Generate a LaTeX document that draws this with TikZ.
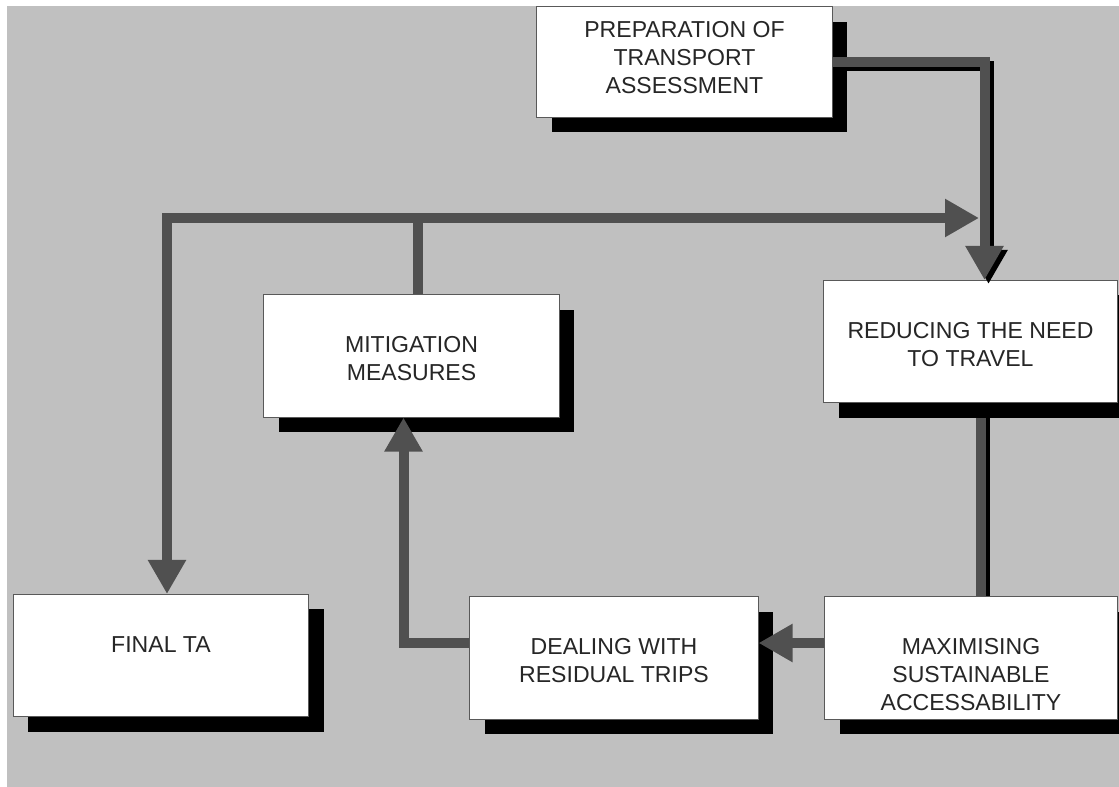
\documentclass[tikz,border=0pt]{standalone}
\usepackage{fontspec}
\setmainfont{Liberation Sans}
\usetikzlibrary{arrows.meta,calc,shadows,backgrounds}

\definecolor{paper}{HTML}{C0C0C0}
\definecolor{pipegray}{HTML}{505050}

\begin{document}
\begin{tikzpicture}[x=0.025cm, y=-0.025cm, line join=miter,
    stage/.style={draw=black!65, line width=0.7pt, fill=white, text=black!85,
      minimum width=7.375cm, minimum height=3.05cm, align=center,
      font={\fontsize{16.4}{19.6}\selectfont},
      drop shadow={shadow xshift=0.375cm, shadow yshift=-0.375cm, fill=black, opacity=1}},
    % the text sits near the top of each box
    oneline/.style={text height=0pt, text depth=0.15cm},
    twolines/.style={text height=1.225cm, text depth=0pt},
    threelines/.style={text height=2.6cm, text depth=0pt},
    pipe/.style={draw=pipegray, line width=0.25cm},
    pipeedge/.style={draw=black, transform canvas={xshift=0.1cm, yshift=-0.1cm}},
    head/.style={-{Triangle[length=0.85cm, width=0.9cm]}}]
	% Page size and the grey sheet
	\useasboundingbox (0,0) rectangle (1119,787);
	\begin{scope}[on background layer]
		\fill[paper] (7,6) rectangle (1119,787);
	\end{scope}
	
	% Stages of the assessment
	\node[stage, minimum height=2.75cm, text height=1.55cm, text depth=0pt] (prep) at (684.5,62) {PREPARATION OF\\TRANSPORT\\ASSESSMENT};
	\node[stage, twolines, minimum width=7.325cm] (reduce) at (970.5,341.5) {REDUCING THE NEED\\TO TRAVEL};
	\node[stage, twolines] (mitig) at (411.5,356) {MITIGATION\\MEASURES};
	\node[stage, oneline] (final) at (161,655.5) {FINAL TA};
	\node[stage, twolines, minimum width=7.2cm] (deal) at (614,658) {DEALING WITH\\RESIDUAL TRIPS};
	\node[stage, threelines, minimum width=7.3cm] (maxim) at (971,658) {MAXIMISING\\SUSTAINABLE\\ACCESSABILITY};
	
	% Ends of the pipes, a little off the box centres
	\coordinate (reducein) at ($(reduce.north)+(14,0)$);
	\coordinate (reduceout) at ($(reduce.south)+(10,0)$);
	\coordinate (mitigout) at ($(mitig.north)+(6,0)$);
	\coordinate (mitigin) at ($(mitig.south)+(-8,0)$);
	\coordinate (finalin) at ($(final.north)+(6,0)$);
	% Free end of the feedback arrow (it meets the pipe into reduce)
	\coordinate (loop) at (979,218);
	
	% Prep -> reduce, with a dark edge
	\draw[pipe, pipeedge, head] (prep.east) -| (reducein);
	\draw[pipe, head] (prep.east) -| (reducein);
	
	% Reduce -> maxim runs behind the shadow of reduce
	\begin{scope}[on background layer]
		\draw[pipe, pipeedge] (reduceout) -- (reduceout |- maxim.north);
		\draw[pipe] (reduceout) -- (reduceout |- maxim.north);
	\end{scope}
	
	% Maxim -> deal -> mitig
	\draw[pipe, head] ($(maxim.west)+(0,-15)$) -- ($(deal.east)+(0,-15)$);
	\draw[pipe, head] ($(deal.west)+(0,-15)$) -| (mitigin);
	
	% Mitig feeds back to reduce and on to the final TA
	\draw[pipe, head] (mitigout) |- (loop);
	\draw[pipe, head] (mitigout) -- (mitigout |- loop) -| (finalin);
	
\end{tikzpicture}
\end{document}
